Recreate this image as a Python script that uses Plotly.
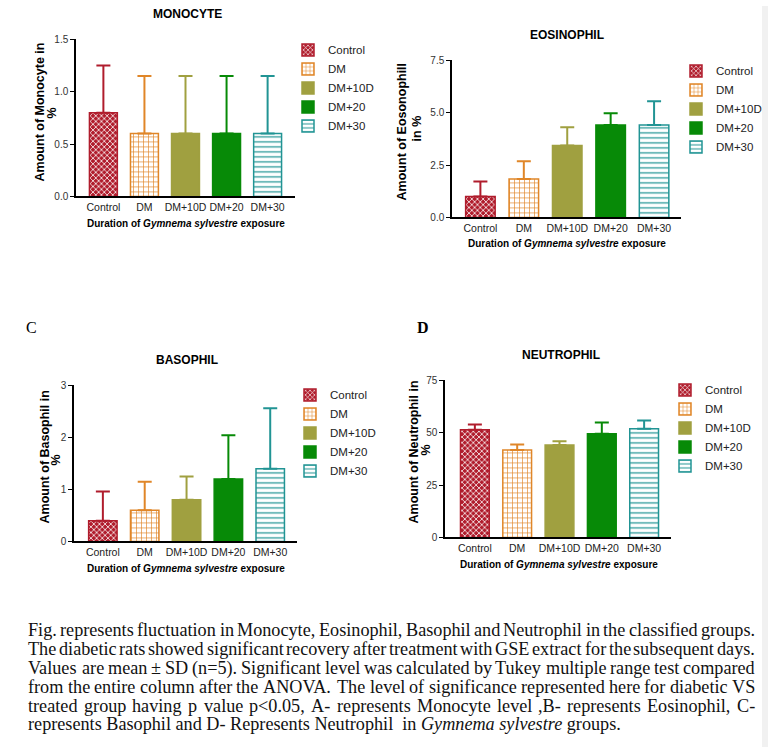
import plotly.graph_objects as go

# ---------------- data ----------------
categories = ["Control", "DM", "DM+10D", "DM+20", "DM+30"]

monocyte_mean = [0.8, 0.6, 0.6, 0.6, 0.6]
monocyte_sd = [0.45, 0.55, 0.55, 0.55, 0.55]

eosinophil_mean = [1.0, 1.83, 3.43, 4.42, 4.42]
eosinophil_sd = [0.72, 0.85, 0.88, 0.56, 1.13]

basophil_mean = [0.4, 0.6, 0.8, 1.2, 1.4]
basophil_sd = [0.56, 0.55, 0.45, 0.84, 1.16]

neutrophil_mean = [51.4, 41.8, 44.2, 49.5, 51.9]
neutrophil_sd = [2.5, 2.6, 1.8, 5.4, 3.9]

monocyte_ticks = [0, 0.5, 1.0, 1.5]
monocyte_ticklabels = ["0.0", "0.5", "1.0", "1.5"]
eosinophil_ticks = [0, 2.5, 5.0, 7.5]
eosinophil_ticklabels = ["0.0", "2.5", "5.0", "7.5"]
basophil_ticks = [0, 1, 2, 3]
basophil_ticklabels = ["0", "1", "2", "3"]
neutrophil_ticks = [0, 25, 50, 75]
neutrophil_ticklabels = ["0", "25", "50", "75"]

panel_titles = ["MONOCYTE", "EOSINOPHIL", "BASOPHIL", "NEUTROPHIL"]
y_titles = [("Amount of Monocyte in", "%"), ("Amount of Eosonophill", "in %"),
            ("Amount of Basophil in", "%"), ("Amount of Neutrophil in", "%")]
x_title = "<b>Duration of <i>Gymnema sylvestre</i> exposure</b>"

caption_lines = [
    "Fig.  represents fluctuation in Monocyte, Eosinophil, Basophil and Neutrophil in the classified groups.",
    "The diabetic rats showed significant recovery after treatment with GSE extract for the subsequent days.",
    "Values are mean \u00b1 SD (n=5). Significant level was calculated by Tukey multiple range test compared",
    "from the entire column after the ANOVA. The level of significance represented here for diabetic VS",
    "treated group having p value  p<0.05, A- represents Monocyte level ,B- represents Eosinophil, C-",
]
caption_last = "represents Basophil and D- Represents Neutrophil&nbsp; in <i>Gymnema sylvestre</i> groups."

# ---------------- styling ----------------
W, H = 768, 753
def fx(px): return px / W
def fy(py): return 1 - ((py - 5.6) / 0.984) / H

SANS = "Liberation Sans, Arial, sans-serif"
SERIF = "Liberation Serif, Times New Roman, serif"

colors = ["#b01c2c", "#e08628", "#a0a040", "#078a07", "#219494"]
patterns = [
    dict(shape="x", fgcolor="white", bgcolor="#b01c2c", size=4, solidity=0.35),
    dict(shape="+", fgcolor="#e08628", bgcolor="white", size=5, solidity=0.25),
    dict(shape=""),
    dict(shape=""),
    dict(shape="-", fgcolor="#219494", bgcolor="white", size=5, solidity=0.25),
]

panels = [
    dict(mean=monocyte_mean, sd=monocyte_sd, tv=monocyte_ticks, tt=monocyte_ticklabels,
         xpx=(76, 295), ypx=(39, 196), xr=(-0.667, 4.667), ymax=1.5,
         title=(187, 14), yt1=(40, 112), yt2=(52, 113), xt=(186, 223),
         legend=(288, 35)),
    dict(mean=eosinophil_mean, sd=eosinophil_sd, tv=eosinophil_ticks, tt=eosinophil_ticklabels,
         xpx=(452, 681), ypx=(60, 217), xr=(-0.654, 4.62), ymax=7.5,
         title=(567, 35), yt1=(402, 132), yt2=(417, 128), xt=(567, 243),
         legend=(676, 56)),
    dict(mean=basophil_mean, sd=basophil_sd, tv=basophil_ticks, tt=basophil_ticklabels,
         xpx=(74, 297), ypx=(385, 541), xr=(-0.69, 4.64), ymax=3,
         title=(187, 360), yt1=(45, 457), yt2=(56, 460), xt=(186, 568),
         legend=(290, 380)),
    dict(mean=neutrophil_mean, sd=neutrophil_sd, tv=neutrophil_ticks, tt=neutrophil_ticklabels,
         xpx=(445, 671), ypx=(380, 537), xr=(-0.706, 4.635), ymax=75,
         title=(561, 355), yt1=(414, 452), yt2=(426, 450), xt=(559, 564),
         legend=(665, 375)),
]

fig = go.Figure()
annotations = []
legend_names = ["legend", "legend2", "legend3", "legend4"]
layout_extra = {}

for p_i, p in enumerate(panels):
    sfx = "" if p_i == 0 else str(p_i + 1)
    xa, ya = "x" + sfx, "y" + sfx
    for c_i, cat in enumerate(categories):
        pat = patterns[c_i]
        marker = dict(color=colors[c_i], line=dict(color=colors[c_i], width=1.5))
        if pat["shape"]:
            marker["pattern"] = dict(fillmode="replace", **pat)
        fig.add_trace(go.Bar(
            x=[cat], y=[p["mean"][c_i]], name=cat, xaxis=xa, yaxis=ya,
            width=0.68, marker=marker, legend=legend_names[p_i],
            error_y=dict(type="data", array=[p["sd"][c_i]], arrayminus=[0],
                         symmetric=False, color=colors[c_i], thickness=2, width=7),
            hoverinfo="skip",
        ))
    layout_extra["xaxis" + sfx] = dict(
        domain=[fx(p["xpx"][0]), fx(p["xpx"][1])], anchor=ya, type="category",
        categoryorder="array", categoryarray=categories, range=list(p["xr"]),
        showline=True, linecolor="black", linewidth=1.5, ticks="", showgrid=False,
        zeroline=False, tickfont=dict(family=SANS, size=10.5, color="#222"), fixedrange=True)
    layout_extra["yaxis" + sfx] = dict(
        domain=[fy(p["ypx"][1]), fy(p["ypx"][0])], anchor=xa, range=[0, p["ymax"]],
        tickvals=p["tv"], ticktext=p["tt"], showline=True, linecolor="black", linewidth=1.5,
        ticks="outside", ticklen=4, tickwidth=1, tickcolor="black", showgrid=False,
        zeroline=False, tickfont=dict(family=SANS, size=10, color="#333"), fixedrange=True)
    layout_extra[legend_names[p_i]] = dict(
        x=fx(p["legend"][0]), y=fy(p["legend"][1]), xanchor="left", yanchor="top",
        bgcolor="rgba(0,0,0,0)", font=dict(family=SANS, size=11.5, color="#222"),
        itemwidth=30, tracegroupgap=0, traceorder="normal")
    # titles
    annotations.append(dict(text="<b>" + panel_titles[p_i] + "</b>", x=fx(p["title"][0]), y=fy(p["title"][1]),
                            xref="paper", yref="paper", showarrow=False, xanchor="center", yanchor="middle",
                            font=dict(family=SANS, size=12, color="black")))
    annotations.append(dict(text="<b>" + y_titles[p_i][0] + "</b>", x=fx(p["yt1"][0]), y=fy(p["yt1"][1]),
                            xref="paper", yref="paper", showarrow=False, xanchor="center", yanchor="middle",
                            textangle=-90, font=dict(family=SANS, size=12.5, color="black")))
    annotations.append(dict(text="<b>" + y_titles[p_i][1] + "</b>", x=fx(p["yt2"][0]), y=fy(p["yt2"][1]),
                            xref="paper", yref="paper", showarrow=False, xanchor="center", yanchor="middle",
                            textangle=-90, font=dict(family=SANS, size=12.5, color="black")))
    annotations.append(dict(text=x_title, x=fx(p["xt"][0]), y=fy(p["xt"][1]),
                            xref="paper", yref="paper", showarrow=False, xanchor="center", yanchor="middle",
                            font=dict(family=SANS, size=10, color="black")))

# panel letters
annotations.append(dict(text="C", x=fx(24), y=fy(327), xref="paper", yref="paper", showarrow=False,
                        xanchor="left", yanchor="middle", font=dict(family=SERIF, size=16, color="black")))
annotations.append(dict(text="<b>D</b>", x=fx(415), y=fy(327), xref="paper", yref="paper", showarrow=False,
                        xanchor="left", yanchor="middle", font=dict(family=SERIF, size=16, color="black")))

# caption: justified lines using Times metrics
TW = {' ': 250, 'a': 444, 'b': 500, 'c': 444, 'd': 500, 'e': 444, 'f': 333, 'g': 500, 'h': 500, 'i': 278,
      'j': 278, 'k': 500, 'l': 278, 'm': 778, 'n': 500, 'o': 500, 'p': 500, 'q': 500, 'r': 333, 's': 389,
      't': 278, 'u': 500, 'v': 500, 'w': 722, 'x': 500, 'y': 500, 'z': 444,
      'A': 722, 'B': 667, 'C': 667, 'D': 722, 'E': 611, 'F': 556, 'G': 722, 'H': 722, 'I': 333, 'J': 389,
      'K': 722, 'L': 611, 'M': 889, 'N': 722, 'O': 722, 'P': 556, 'Q': 722, 'R': 667, 'S': 556, 'T': 611,
      'U': 722, 'V': 722, 'W': 944, 'X': 722, 'Y': 722, 'Z': 611,
      '.': 250, ',': 250, '(': 333, ')': 333, '-': 333, '=': 564, '<': 564, '\u00b1': 564, ':': 278, ';': 278}
for d in "0123456789":
    TW[d] = 500
FS = 18.2
def wpx(s):
    return sum(TW.get(ch, 500) for ch in s) * FS / 1000.0

CAP_L, CAP_R = 28, 755
CAP_Y0, CAP_DY = 630, 18.8
for li, line in enumerate(caption_lines):
    words = line.split()
    widths = [wpx(w) for w in words]
    gap = (CAP_R - CAP_L - sum(widths)) / (len(words) - 1)
    xpos = CAP_L
    for w, wd in zip(words, widths):
        annotations.append(dict(text=w.replace("<", "&lt;"), x=fx(xpos), y=fy(CAP_Y0 + li * CAP_DY),
                                xref="paper", yref="paper", showarrow=False, xanchor="left",
                                yanchor="middle", xshift=-1, borderpad=0,
                                font=dict(family=SERIF, size=FS, color="#111")))
        xpos += wd + gap
annotations.append(dict(text=caption_last, x=fx(CAP_L), y=fy(CAP_Y0 + 5 * CAP_DY), xref="paper", yref="paper",
                        showarrow=False, xanchor="left", yanchor="middle", xshift=-1, borderpad=0,
                        font=dict(family=SERIF, size=FS, color="#111")))

fig.update_layout(
    width=W, height=H, margin=dict(l=0, r=0, t=0, b=0, pad=0),
    paper_bgcolor="white", plot_bgcolor="white", barmode="overlay",
    annotations=annotations, showlegend=True,
    shapes=[dict(type="rect", xref="paper", yref="paper", x0=fx(762), x1=1, y0=0, y1=1,
                 fillcolor="#f1f1f1", line=dict(width=0), layer="below")],
    **layout_extra,
)

fig.write_html("out.html", config={"displayModeBar": False},
               post_script="document.body.style.margin='0px';document.body.style.padding='0px';"
                           "document.documentElement.style.overflow='hidden';")
